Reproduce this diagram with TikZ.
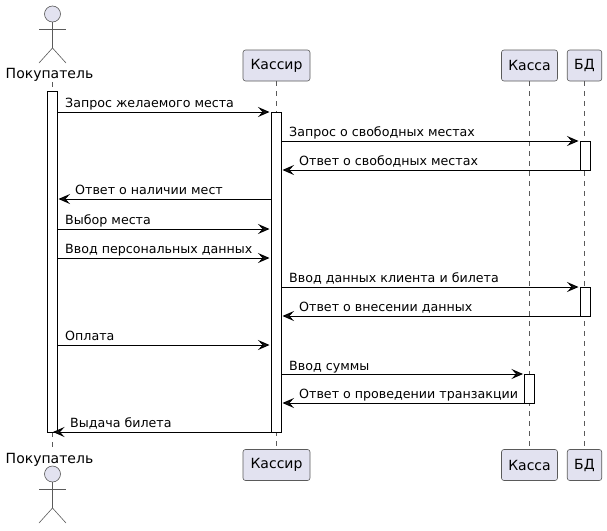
\documentclass[tikz,border=0pt]{standalone}
\usepackage{fontspec}
\setmainfont{DejaVu Sans}
\usetikzlibrary{arrows.meta}
\definecolor{pfill}{HTML}{E2E2F0}
\definecolor{pline}{HTML}{181818}
\definecolor{soft}{HTML}{5A5A5A}
\tikzset{
  x=1pt,y=-1pt,
  party/.style={draw=soft,line width=0.6pt,fill=pfill,rounded corners=2.5pt,inner sep=0pt,minimum height=31pt,font=\fontsize{14}{16}\selectfont,text=black},
  actorname/.style={inner sep=0pt,anchor=base,font=\fontsize{14}{16}\selectfont,text=black},
  bar/.style={draw=black,line width=1pt,fill=white,inner sep=0pt,minimum width=10pt,anchor=north},
  life/.style={draw=soft,line width=0.5pt,dash pattern=on 5pt off 5pt},
  limb/.style={draw=soft,line width=0.6pt},
  msg/.style={draw=black,line width=1pt,-{Stealth[length=11.5pt,width=10pt,inset=4.5pt,fill=pline]}},
  lbl/.style={inner sep=0pt,anchor=base west,font=\fontsize{12.65}{15}\selectfont,text=black},
}
\newcommand{\actorfig}[1]{%
  \draw[limb,fill=pfill] (52.5,#1+0) circle[radius=8];
  \draw[limb] (52.5,#1+8) -- (52.5,#1+34);
  \draw[limb] (39,#1+15) -- (66,#1+15);
  \draw[limb] (39,#1+49) -- (52.5,#1+34) -- (66,#1+49);
}
\begin{document}
\begin{tikzpicture}
\useasboundingbox (0,0) rectangle (607,530);
\coordinate (lifeAT) at (52.5,82);
\coordinate (lifeAB) at (52.5,449);
\coordinate (cashX) at (276,0);
\draw[life] (lifeAT) -- (lifeAB);
\node[actorname] (buyerT) at (49.5,78) {Покупатель};
\node[actorname] (buyerB) at (49.5,463) {Покупатель};
\node[party,minimum width=67pt] (cashT) at (276.5,65.5) {Кассир};
\node[party,minimum width=56pt] (tillT) at (529.5,65.5) {Касса};
\node[party,minimum width=34.5pt] (dbT) at (584.5,65.5) {БД};
\node[party,minimum width=67pt] (cashB) at (276.5,465) {Кассир};
\node[party,minimum width=56pt] (tillB) at (529.5,465) {Касса};
\node[party,minimum width=34.5pt] (dbB) at (584.5,465) {БД};
\draw[life] (cashX |- cashT.south) -- (cashX |- cashB.north);
\draw[life] (tillT) -- (tillB);
\draw[life] (dbT) -- (dbB);
\actorfig{14}
\actorfig{474}
\node[bar,minimum height=341pt] (barA) at (52,91) {};
\node[bar,minimum height=320pt] (barC) at (276,112) {};
\node[bar,minimum height=29pt] (barD1) at (585,141) {};
\node[bar,minimum height=29pt] (barD2) at (585,287) {};
\node[bar,minimum height=29pt] (barK) at (529.5,374) {};
\foreach \n/\y in {1/112,2/141,3/170,4/199,5/229,6/258,7/287,8/316,9/345,10/374,11/403,12/432}
  \coordinate (r\n) at (0,\y);
\draw[msg] (barA.east |- r1) -- ([xshift=-1pt]barC.west |- r1);
\draw[msg] (barC.east |- r2) -- ([xshift=-1pt]barD1.west |- r2);
\draw[msg] (barD1.west |- r3) -- ([xshift=1pt]barC.east |- r3);
\draw[msg] (barC.west |- r4) -- ([xshift=1pt]barA.east |- r4);
\draw[msg] (barA.east |- r5) -- ([xshift=-1pt]barC.west |- r5);
\draw[msg] (barA.east |- r6) -- ([xshift=-1pt]barC.west |- r6);
\draw[msg] (barC.east |- r7) -- ([xshift=-1pt]barD2.west |- r7);
\draw[msg] (barD2.west |- r8) -- ([xshift=1pt]barC.east |- r8);
\draw[msg] (barA.east |- r9) -- ([xshift=-1pt]barC.west |- r9);
\draw[msg] (barC.east |- r10) -- ([xshift=-1pt]barK.west |- r10);
\draw[msg] (barK.west |- r11) -- ([xshift=1pt]barC.east |- r11);
\draw[msg] (barC.west |- r12) -- ([xshift=1pt]barA.center |- r12);
\node[lbl] (t1) at (65,107) {Запрос желаемого места};
\node[lbl] (t2) at (289,136) {Запрос о свободных местах};
\node[lbl] (t3) at (299,165.7) {Ответ о свободных местах};
\node[lbl] (t4) at (75,194.7) {Ответ о наличии мест};
\node[lbl] (t5) at (65,224) {Выбор места};
\node[lbl] (t6) at (65,253) {Ввод персональных данных};
\node[lbl] (t7) at (289,282) {Ввод данных клиента и билета};
\node[lbl] (t8) at (299,311.7) {Ответ о внесении данных};
\node[lbl] (t9) at (65,340) {Оплата};
\node[lbl] (t10) at (289,370) {Ввод суммы};
\node[lbl] (t11) at (299,398.7) {Ответ о проведении транзакции};
\node[lbl] (t12) at (70,427) {Выдача билета};
\end{tikzpicture}
\end{document}
